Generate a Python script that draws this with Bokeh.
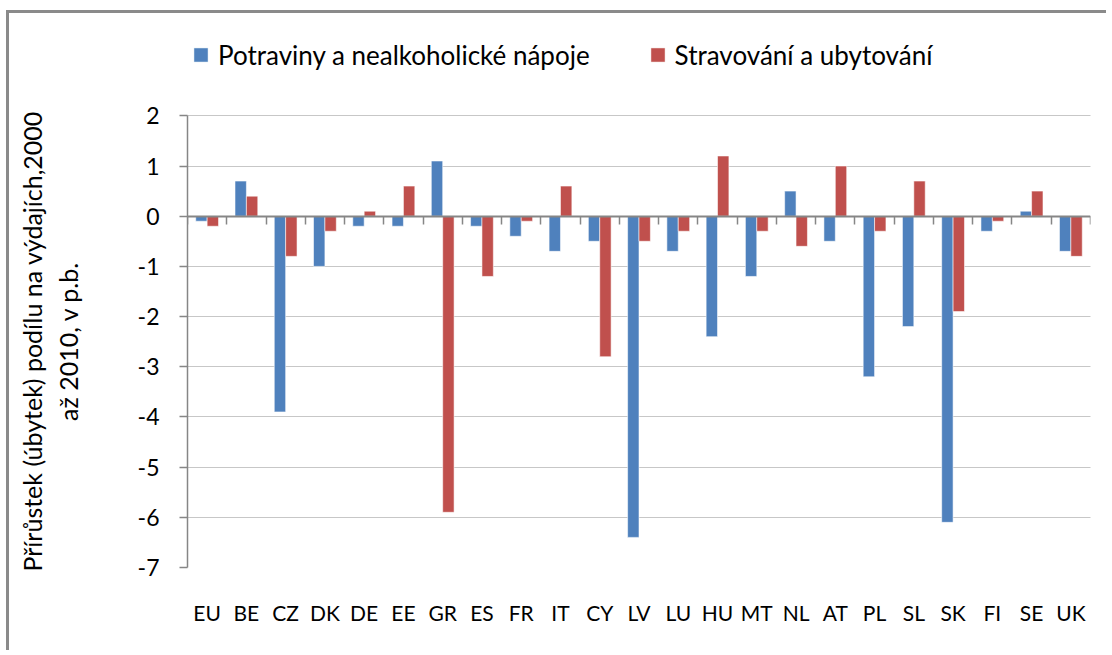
from bokeh.plotting import figure
from bokeh.models import (ColumnDataSource, Range1d, FixedTicker, LinearAxis,
                          Legend, LegendItem)
from bokeh.embed import file_html
from bokeh.resources import INLINE

# ---- data ----
countries = ["EU", "BE", "CZ", "DK", "DE", "EE", "GR", "ES", "FR", "IT", "CY", "LV",
             "LU", "HU", "MT", "NL", "AT", "PL", "SL", "SK", "FI", "SE", "UK"]
food = [-0.1, 0.7, -3.9, -1.0, -0.2, -0.2, 1.1, -0.2, -0.4, -0.7, -0.5, -6.4,
        -0.7, -2.4, -1.2, 0.5, -0.5, -3.2, -2.2, -6.1, -0.3, 0.1, -0.7]
catering = [-0.2, 0.4, -0.8, -0.3, 0.1, 0.6, -5.9, -1.2, -0.1, 0.6, -2.8, -0.5,
            -0.3, 1.2, -0.3, -0.6, 1.0, -0.3, 0.7, -1.9, -0.1, 0.5, -0.8]
series_names = ["Potraviny a nealkoholické nápoje", "Stravování a ubytování"]
y_ticks = [2, 1, 0, -1, -2, -3, -4, -5, -6, -7]
y_title_lines = ["Přírůstek (úbytek) podílu na výdajích,2000", "až 2010, v p.b."]

BLUE = "#4F81BD"
RED = "#C0504D"
GREY = "#868686"
FONT = "Lato"

n = len(countries)
centers = list(range(n))
boundaries = [i - 0.5 for i in range(n + 1)]
BAR_W = 0.29
Y_LO, Y_HI = min(y_ticks), max(y_ticks)
HEADROOM = 1.8  # room above the value axis for the legend

# the axis title is centred on the whole frame; pad its top end so that it
# sits centred on the value axis instead
PAD = "\u00a0" * 14
y_title = "\n".join(line + PAD for line in y_title_lines)

src = ColumnDataSource(dict(
    food_l=[c - BAR_W for c in centers],
    food_r=[c for c in centers],
    cat_l=[c for c in centers],
    cat_r=[c + BAR_W for c in centers],
    food_x=[c - BAR_W / 2 for c in centers],
    cat_x=[c + BAR_W / 2 for c in centers],
    food=food,
    catering=catering,
    zero=[0] * n,
))

p = figure(width=1100, height=640,
           x_range=Range1d(-0.5, n - 0.5), y_range=Range1d(Y_LO, Y_HI + HEADROOM),
           output_backend="svg", toolbar_location=None,
           min_border_left=178, min_border_right=19,
           min_border_top=12, min_border_bottom=86,
           styles={"margin-left": "6px", "margin-top": "10px",
                   "border-top": "3px solid #8a8a8a", "border-left": "3px solid #8a8a8a",
                   "border-right": "none", "border-bottom": "none"})
p.outline_line_color = None
p.background_fill_color = "white"
p.border_fill_color = "white"

# y axis
yt = FixedTicker(ticks=y_ticks)
p.yaxis.ticker = yt
p.yaxis.bounds = (Y_LO, Y_HI)
p.ygrid.ticker = yt
p.yaxis.major_label_overrides = {t: str(t) for t in y_ticks}
p.yaxis.axis_line_color = GREY
p.yaxis.axis_line_width = 1.5
p.yaxis.major_tick_line_color = GREY
p.yaxis.major_tick_line_width = 1.5
p.yaxis.major_tick_out = 8
p.yaxis.major_tick_in = 0
p.yaxis.minor_tick_line_color = None
p.yaxis.major_label_standoff = 20
p.yaxis.major_label_text_font = FONT
p.yaxis.major_label_text_font_size = "23px"
p.yaxis.major_label_text_color = "black"
p.yaxis.axis_label = y_title
p.yaxis.axis_label_text_font = FONT
p.yaxis.axis_label_text_font_size = "25px"
p.yaxis.axis_label_text_font_style = "normal"
p.yaxis.axis_label_text_color = "black"
p.yaxis.axis_label_standoff = 52

p.ygrid.grid_line_color = "#8f8f8f"
p.ygrid.grid_line_dash = "1 1"
p.xgrid.visible = False

# x label axis (bottom)
xa = p.xaxis[0]
xa.ticker = FixedTicker(ticks=centers)
xa.major_label_overrides = {c: name for c, name in zip(centers, countries)}
xa.axis_line_color = None
xa.major_tick_line_color = None
xa.minor_tick_line_color = None
xa.major_tick_out = 0
xa.major_label_standoff = 32
xa.major_label_text_font = FONT
xa.major_label_text_font_size = "21px"
xa.major_label_text_color = "black"

# bars
r_food = p.quad(left="food_l", right="food_r", top="food", bottom="zero", source=src,
                fill_color=BLUE, line_color="white", line_alpha=0.55, line_width=1)
r_cat = p.quad(left="cat_l", right="cat_r", top="catering", bottom="zero", source=src,
               fill_color=RED, line_color="white", line_alpha=0.55, line_width=1)

# zero-size square markers: used only to give the legend square swatches
sw_food = p.scatter(x="food_x", y="zero", source=src, marker="square", size=0,
                    fill_color=BLUE, line_color="#dfe8f3", line_width=0.5)
sw_cat = p.scatter(x="cat_x", y="zero", source=src, marker="square", size=0,
                   fill_color=RED, line_color="#f2dcdb", line_width=0.5)

# zero-line category axis with ticks between categories
zero_axis = LinearAxis(fixed_location=0, ticker=FixedTicker(ticks=boundaries),
                       axis_line_color=GREY, axis_line_width=2,
                       major_tick_line_color=GREY, major_tick_line_width=1.5,
                       major_tick_out=8, major_tick_in=0,
                       minor_tick_line_color=None,
                       major_label_text_color=None, major_label_text_font_size="1px")
p.add_layout(zero_axis, "below")

legend = Legend(items=[LegendItem(label=series_names[0], renderers=[sw_food]),
                       LegendItem(label=series_names[1], renderers=[sw_cat])],
                orientation="horizontal", location=(-4, 495),
                glyph_width=35, glyph_height=35, label_standoff=0, spacing=50,
                padding=0, margin=0, border_line_color=None,
                background_fill_alpha=0,
                label_text_font=FONT, label_text_font_size="26px",
                label_text_color="black")
p.add_layout(legend)

open("out.html", "w").write(file_html(p, INLINE))
